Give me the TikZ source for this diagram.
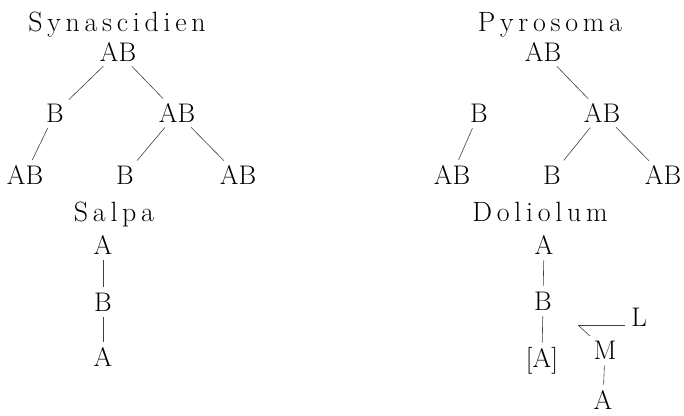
\documentclass[tikz,border=0pt]{standalone}
\usepackage{fontspec}
\newfontfamily\spacedfont[LetterSpace=17]{Latin Modern Roman}
\usepackage{tikz}
\usetikzlibrary{calc}

\begin{document}
\begin{tikzpicture}[x=1bp,y=-1bp,
  taxon/.style={font=\spacedfont\fontsize{28}{31}\selectfont,
                inner sep=0pt,text height=19bp,text depth=0pt},
  stage/.style={font=\fontsize{27}{30}\selectfont,inner sep=2bp,
                text height=18.5bp,text depth=0pt},
  link/.style={black!75,line width=0.6pt,shorten <=4bp,shorten >=4bp},
]
\useasboundingbox (0,0) rectangle (684,415);
% Synascidien
\node[taxon] (syn) at (117,22) {Synascidien};
\node[stage] (s0) at (118,52) {AB};
\node[stage] (s1) at (55,113) {B};
\node[stage] (s2) at (177,113) {AB};
\node[stage] (s3) at (25,175) {AB};
\node[stage] (s4) at (125,175) {B};
\node[stage] (s5) at (238,175) {AB};
\draw[link] (s0) -- (s1);
\draw[link] (s0) -- (s2);
\draw[link] (s1) -- (s3);
\draw[link] (s2) -- (s4);
\draw[link] (s2) -- (s5);
% Salpa
\node[taxon] (sal) at (114,212) {Salpa};
\node[stage] (a0) at (103,245) {A};
\node[stage] (a1) at (103,302) {B};
\node[stage] (a2) at (103,357) {A};
\draw[link] (a0) -- (a1);
\draw[link] (a1) -- (a2);
% Pyrosoma
\node[taxon] (pyr) at (550,22) {Pyrosoma};
\node[stage] (p0) at (543,52) {AB};
\node[stage] (p1) at (479,113) {B};
\node[stage] (p2) at (602,113) {AB};
\node[stage] (p3) at (452,175) {AB};
\node[stage] (p4) at (552,175) {B};
\node[stage] (p5) at (663,175) {AB};
\draw[link] (p0) -- (p2);
\draw[link] (p1) -- (p3);
\draw[link] (p2) -- (p4);
\draw[link] (p2) -- (p5);
% Doliolum
\node[taxon] (dol) at (540,212) {Doliolum};
\node[stage] (d0) at (544,245) {A};
\node[stage] (d1) at (543,301) {B};
\node[stage] (d2) at (542,358) {[A]};
\node[stage] (L) at (639,317) {L};
\node[stage] (M) at (605,350) {M};
\node[stage] (d3) at (603,400) {A};
\coordinate (fork) at (578,325);
\draw[link] (d0) -- (d1);
\draw[link] (d1) -- (d2);
\draw[link,shorten <=0pt] (fork) -- (fork -| L.west);
\draw[link,shorten <=0pt] (fork) -- (M);
\draw[link] (M) -- (d3);
\end{tikzpicture}
\end{document}
